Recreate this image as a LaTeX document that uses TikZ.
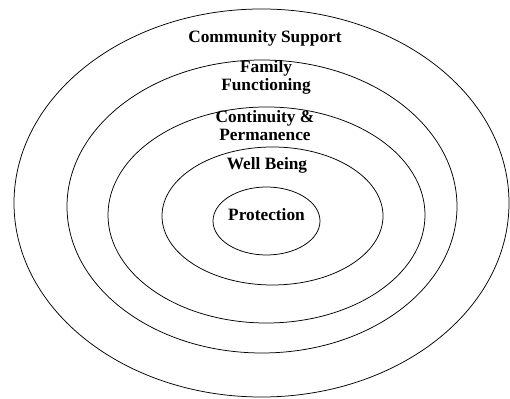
\documentclass[tikz,border=0pt]{standalone}
\usepackage{fontspec}
\setmainfont{Liberation Serif}
\usepackage{tikz}
\usetikzlibrary{shapes.geometric}

\begin{document}
\begin{tikzpicture}[
x=1pt,y=1pt,
ring/.style={
ellipse,draw,line width=0.75pt,
inner sep=0pt
},
tag/.style={
align=center,
font=\bfseries\fontsize{17.3}{18}\selectfont
}
]

\useasboundingbox (0,0) rectangle (510,398);

% RINGS
\node[ring,minimum width=495,minimum height=388] (comm) at (261.5,195) {};
\node[ring,minimum width=390,minimum height=293] (family) at (262,191.5) {};
\node[ring,minimum width=317,minimum height=216] (contin) at (266.5,183) {};
\node[ring,minimum width=221,minimum height=138] (wellb) at (272.5,182) {};
\node[ring,minimum width=107,minimum height=68] (prot) at (266.5,177) {};

% LABELS
\node[tag] (commtext) at (265,360) {Community Support};
\node[tag] (familytext) at (266,321) {Family\\Functioning};
\node[tag] (contintext) at (265,272) {Continuity \&\\Permanence};
\node[tag] (wellbtext) at (267,233) {Well Being};
\node[tag] (prottext) at (266.5,183) {Protection};

\end{tikzpicture}
\end{document}
